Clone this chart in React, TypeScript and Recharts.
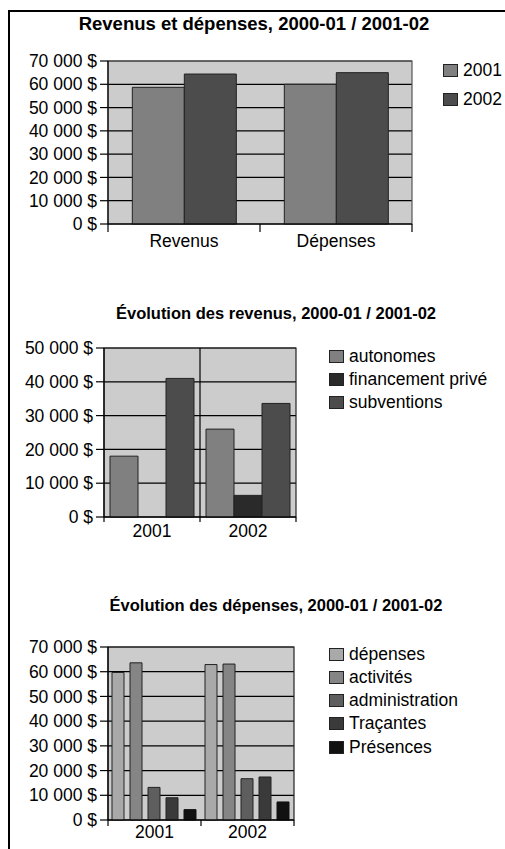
import React from 'react';
import { BarChart, Bar, XAxis, YAxis, CartesianGrid, Legend, ReferenceLine, ReferenceArea } from 'recharts';

const FONT = '"Liberation Sans", Arial, Helvetica, sans-serif';
const LABEL_SIZE = 17.5;

// ---- Chart 1: Revenus et dépenses
const summaryCategories = ['Revenus', 'Dépenses'];
const summarySeries = ['2001', '2002'];
const summary2001 = [58700, 60000];
const summary2002 = [64400, 65000];
const summaryTicks = [0, 10000, 20000, 30000, 40000, 50000, 60000, 70000];

// ---- Chart 2: Évolution des revenus
const revenueYears = ['2001', '2002'];
const revenueSeries = ['autonomes', 'financement privé', 'subventions'];
const revenueAutonomes = [18000, 26000];
const revenuePrive = [0, 6400];
const revenueSubventions = [41000, 33600];
const revenueTicks = [0, 10000, 20000, 30000, 40000, 50000];

// ---- Chart 3: Évolution des dépenses
const expenseYears = ['2001', '2002'];
const expenseSeries = ['dépenses', 'activités', 'administration', 'Traçantes', 'Présences'];
const expenseDepenses = [59700, 62900];
const expenseActivites = [63600, 63100];
const expenseAdministration = [13200, 16700];
const expenseTracantes = [9000, 17400];
const expensePresences = [4200, 7300];
const expenseTicks = [0, 10000, 20000, 30000, 40000, 50000, 60000, 70000];

const summaryData = summaryCategories.map((c, i) => ({ cat: c, [summarySeries[0]]: summary2001[i], [summarySeries[1]]: summary2002[i] }));
const revenueData = revenueYears.map((y, i) => ({
  cat: y,
  [revenueSeries[0]]: revenueAutonomes[i],
  [revenueSeries[1]]: revenuePrive[i],
  [revenueSeries[2]]: revenueSubventions[i],
}));
const expenseData = expenseYears.map((y, i) => ({
  cat: y,
  [expenseSeries[0]]: expenseDepenses[i],
  [expenseSeries[1]]: expenseActivites[i],
  [expenseSeries[2]]: expenseAdministration[i],
  [expenseSeries[3]]: expenseTracantes[i],
  [expenseSeries[4]]: expensePresences[i],
}));

const summaryColors = ['#808080', '#4c4c4c'];
const revenueColors = ['#808080', '#2a2a2a', '#4c4c4c'];
const expenseColors = ['#a9a9a9', '#858585', '#5e5e5e', '#3a3a3a', '#111111'];

const money = (v: number) => `${String(v).replace(/\B(?=(\d{3})+(?!\d))/g, '\u00a0')}\u00a0$`;

const makeTick = (tickSize: number, tickMargin: number, fallbackHalf: number, count: number) => (props: any) => {
  const { x, y, payload, index } = props;
  const half = payload && typeof payload.offset === 'number' && payload.offset > 0 ? payload.offset : fallbackHalf;
  const axisY = y - tickSize - tickMargin;
  return (
    <g>
      <line x1={x - half} x2={x - half} y1={axisY} y2={axisY + tickSize} stroke="#000" strokeWidth={1.2} />
      {index === count - 1 && (
        <line x1={x + half} x2={x + half} y1={axisY} y2={axisY + tickSize} stroke="#000" strokeWidth={1.2} />
      )}
      <text x={x} y={y} dy="0.71em" textAnchor="middle" fill="#000" fontSize={LABEL_SIZE} fontFamily={FONT}>
        {payload.value}
      </text>
    </g>
  );
};

const SwatchLegend = (rowH: number, order: string[]) => (props: any) => {
  const items = [...(props.payload || [])].sort(
    (a: any, b: any) => order.indexOf(String(a.value)) - order.indexOf(String(b.value))
  );
  return (
    <div>
      {items.map((p: any) => (
        <div
          key={p.value}
          style={{
            display: 'flex',
            alignItems: 'center',
            height: rowH,
            fontFamily: FONT,
            fontSize: LABEL_SIZE,
            color: '#000',
            whiteSpace: 'nowrap',
          }}
        >
          <span
            style={{
              display: 'inline-block',
              width: 15,
              height: 13,
              background: p.color,
              border: '1px solid #222',
              boxSizing: 'border-box',
              marginRight: 5,
            }}
          />
          {p.value}
        </div>
      ))}
    </div>
  );
};

const yTick = { fill: '#000', fontSize: LABEL_SIZE, fontFamily: FONT };
const axisLine = { stroke: '#000', strokeWidth: 1.2 };
const tickLine = { stroke: '#000', strokeWidth: 1.2 };

export default function App() {
  return (
    <div style={{ position: 'relative', width: 505, height: 849, background: '#fff', overflow: 'hidden' }}>
      <style>{'html,body{margin:0;padding:0;overflow:hidden;background:#fff}'}</style>
      {/* frame */}
      <div style={{ position: 'absolute', left: 8, top: 10, width: 1.5, height: 839, background: '#000' }} />
      <div style={{ position: 'absolute', left: 8, top: 10, width: 497, height: 1.5, background: '#000' }} />

      {/* Titles */}
      <div style={{ position: 'absolute', left: 54, top: 15, width: 400, textAlign: 'center', fontFamily: FONT, fontWeight: 'bold', fontSize: 18.5, lineHeight: '18.5px', whiteSpace: 'nowrap' }}>
        Revenus et dépenses, 2000-01 / 2001-02
      </div>
      <div style={{ position: 'absolute', left: 76, top: 305, width: 400, textAlign: 'center', fontFamily: FONT, fontWeight: 'bold', fontSize: 16.5, lineHeight: '16.5px', whiteSpace: 'nowrap' }}>
        Évolution des revenus, 2000-01 / 2001-02
      </div>
      <div style={{ position: 'absolute', left: 76, top: 597, width: 400, textAlign: 'center', fontFamily: FONT, fontWeight: 'bold', fontSize: 16.5, lineHeight: '16.5px', whiteSpace: 'nowrap' }}>
        Évolution des dépenses, 2000-01 / 2001-02
      </div>

      {/* Chart 1 */}
      <div style={{ position: 'absolute', left: 0, top: 0 }}>
        <BarChart width={505} height={262} data={summaryData} margin={{ top: 61, right: 93, bottom: 8, left: 16 }} barCategoryGap="16%" barGap={0}>
          <CartesianGrid fill="#cccccc" vertical={false} stroke="#000" strokeWidth={1.2} />
          <XAxis dataKey="cat" height={30} axisLine={axisLine} tickLine={false} tickSize={8} tickMargin={3} tick={makeTick(8, 3, 76, summaryCategories.length)} interval={0} />
          <YAxis width={92} domain={[0, 70000]} ticks={summaryTicks} interval={0} tickFormatter={money} tick={yTick} tickSize={8} tickMargin={3} axisLine={axisLine} tickLine={tickLine} />
          <ReferenceArea x1={summaryCategories[0]} x2={summaryCategories[summaryCategories.length - 1]} y1={0} y2={70000} fill="none" stroke="#555" strokeWidth={1.2} ifOverflow="visible" />
          {summarySeries.map((s, i) => (
            <Bar key={s} dataKey={s} fill={summaryColors[i]} stroke="#222" strokeWidth={1} isAnimationActive={false} />
          ))}
          <Legend layout="vertical" align="center" verticalAlign="middle" itemSorter={null as any} wrapperStyle={{ left: 443, top: 55.5, width: 'auto' }} content={SwatchLegend(29, summarySeries)} />
        </BarChart>
      </div>

      {/* Chart 2 */}
      <div style={{ position: 'absolute', left: 0, top: 290 }}>
        <BarChart width={505} height={260} data={revenueData} margin={{ top: 58, right: 209, bottom: 3, left: 16 }} barCategoryGap={6} barGap={0}>
          <CartesianGrid fill="#cccccc" vertical={false} stroke="#000" strokeWidth={1.2} />
          <XAxis dataKey="cat" height={30} axisLine={axisLine} tickLine={false} tickSize={5} tickMargin={3} tick={makeTick(5, 3, 48, revenueYears.length)} interval={0} />
          <YAxis width={88} domain={[0, 50000]} ticks={revenueTicks} interval={0} tickFormatter={money} tick={yTick} tickSize={8} tickMargin={3} axisLine={axisLine} tickLine={tickLine} />
          <ReferenceArea x1={revenueYears[0]} x2={revenueYears[revenueYears.length - 1]} y1={0} y2={50000} fill="none" stroke="#222" strokeWidth={1.2} ifOverflow="visible" />
          <ReferenceLine x={revenueYears[1]} position="start" stroke="#000" strokeWidth={1.2} />
          {revenueSeries.map((s, i) => (
            <Bar key={s} dataKey={s} fill={revenueColors[i]} stroke="#222" strokeWidth={1} isAnimationActive={false} />
          ))}
          <Legend layout="vertical" align="center" verticalAlign="middle" itemSorter={null as any} wrapperStyle={{ left: 329, top: 54.5, width: 'auto' }} content={SwatchLegend(23, revenueSeries)} />
        </BarChart>
      </div>

      {/* Chart 3 */}
      <div style={{ position: 'absolute', left: 0, top: 590 }}>
        <BarChart width={505} height={259} data={expenseData} margin={{ top: 57, right: 211, bottom: 2, left: 16 }} barCategoryGap={4} barGap={6}>
          <CartesianGrid fill="#cccccc" vertical={false} stroke="#000" strokeWidth={1.2} />
          <XAxis dataKey="cat" height={27} axisLine={axisLine} tickLine={false} tickSize={6} tickMargin={0} tick={makeTick(6, 0, 46.5, expenseYears.length)} interval={0} />
          <YAxis width={92} domain={[0, 70000]} ticks={expenseTicks} interval={0} tickFormatter={money} tick={yTick} tickSize={8} tickMargin={3} axisLine={axisLine} tickLine={tickLine} />
          <ReferenceArea x1={expenseYears[0]} x2={expenseYears[expenseYears.length - 1]} y1={0} y2={70000} fill="none" stroke="#222" strokeWidth={1.2} ifOverflow="visible" />
          {expenseSeries.map((s, i) => (
            <Bar key={s} dataKey={s} fill={expenseColors[i]} stroke={i === expenseSeries.length - 1 ? '#111' : '#222'} strokeWidth={1} isAnimationActive={false} />
          ))}
          <Legend layout="vertical" align="center" verticalAlign="middle" itemSorter={null as any} wrapperStyle={{ left: 329, top: 52.4, width: 'auto' }} content={SwatchLegend(23.3, expenseSeries)} />
        </BarChart>
      </div>
    </div>
  );
}
